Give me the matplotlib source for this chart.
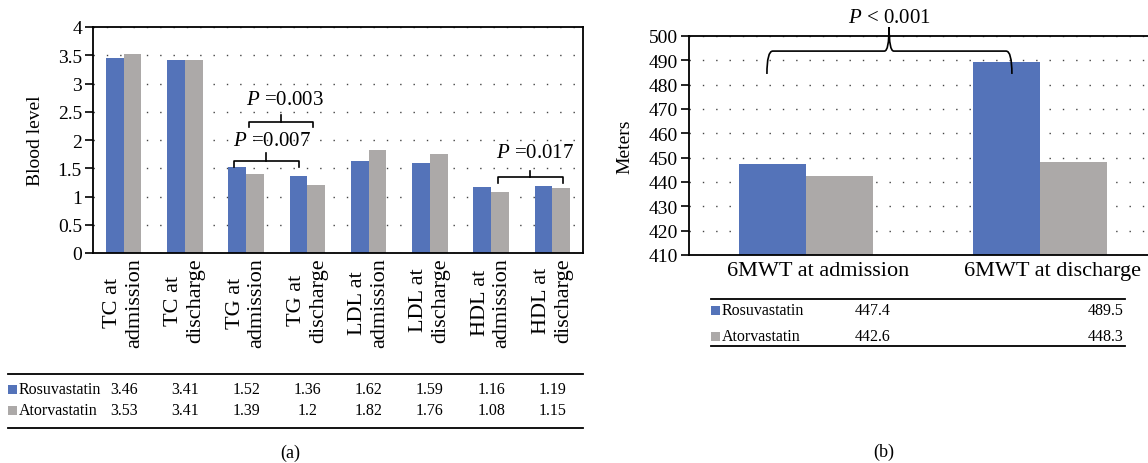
import matplotlib.pyplot as plt
import matplotlib.transforms as mtransforms
from matplotlib.path import Path
from matplotlib.patches import PathPatch, Rectangle
from matplotlib.lines import Line2D
import numpy as np

plt.rcParams['font.family'] = 'Liberation Serif'
plt.rcParams['mathtext.fontset'] = 'custom'
plt.rcParams['mathtext.rm'] = 'Liberation Serif'
plt.rcParams['mathtext.it'] = 'Liberation Serif:italic'

# data
series = ['Rosuvastatin', 'Atorvastatin']
lipid_labels = ['TC at\nadmission', 'TC at\ndischarge', 'TG at\nadmission', 'TG at\ndischarge',
                'LDL at\nadmission', 'LDL at\ndischarge', 'HDL at\nadmission', 'HDL at\ndischarge']
rosu_lipid = [3.46, 3.41, 1.52, 1.36, 1.62, 1.59, 1.16, 1.19]
ator_lipid = [3.53, 3.41, 1.39, 1.2, 1.82, 1.76, 1.08, 1.15]

walk_labels = ['6MWT at admission', '6MWT at discharge']
rosu_walk = [447.4, 489.5]
ator_walk = [442.6, 448.3]

blue = '#5473B9'
grey = '#ACA9A8'
colors = [blue, grey]
dots = (0, (1, 8.6))

W, H = 1148, 464
fx = lambda px: px / W
fy = lambda py: 1 - py / H

fig = plt.figure(figsize=(W / 100, H / 100), dpi=100)
ax1 = fig.add_axes([fx(93), fy(254), fx(583) - fx(93), fy(28) - fy(254)])
ax2 = fig.add_axes([fx(689), fy(256), fx(1157) - fx(689), fy(37) - fy(256)])

for ax in (ax1, ax2):
    for s in ax.spines.values():
        s.set_linewidth(1.3)
        s.set_color('black')
    ax.set_axisbelow(True)
    ax.yaxis.grid(True, linestyle=dots, color='#444444', linewidth=1)
    ax.tick_params(axis='y', length=6, width=1.2, direction='out', labelsize=14, pad=2)
    ax.tick_params(axis='x', length=0, labelsize=16)

# ---- panel (a)
x = np.arange(len(lipid_labels))
w = 0.29
ax1.bar(x - w / 2, rosu_lipid, w, color=blue)
ax1.bar(x + w / 2, ator_lipid, w, color=grey)
ax1.set_xlim(-0.5, len(x) - 0.5)
ax1.set_ylim(0, 4)
yt = np.arange(0, 4.01, 0.5)
ax1.set_yticks(yt)
ax1.set_yticklabels(['%g' % v for v in yt])
ax1.set_xticks(x)
ax1.set_xticklabels(lipid_labels, rotation=90, multialignment='center')
ax1.tick_params(axis='x', pad=3)
ax1.set_ylabel('Blood level', fontsize=14)
ax1.yaxis.set_label_coords(-0.100, 0.5)


def bracket(ax, x0, x1, ylow, yh, ytop):
    ax.plot([x0, x0, x1, x1], [ylow, yh, yh, ylow], color='black', lw=1.2)
    xm = (x0 + x1) / 2
    ax.plot([xm, xm], [yh, ytop], color='black', lw=1.2)


bracket(ax1, 1.80, 2.86, 1.52, 1.63, 1.77)
ax1.text(2.42, 2.0, r'$P$ =0.007', ha='center', va='center', fontsize=15)
bracket(ax1, 2.05, 3.09, 2.23, 2.32, 2.44)
ax1.text(2.63, 2.72, r'$P$ =0.003', ha='center', va='center', fontsize=15)
bracket(ax1, 6.11, 7.17, 1.24, 1.35, 1.45)
ax1.text(6.72, 1.77, r'$P$ =0.017', ha='center', va='center', fontsize=15)

# ---- panel (b)
x2 = np.arange(len(walk_labels))
w2 = 0.286
ax2.bar(x2 - w2 / 2, rosu_walk, w2, color=blue)
ax2.bar(x2 + w2 / 2, ator_walk, w2, color=grey)
ax2.set_xlim(-0.5, len(x2) - 0.5)
ax2.set_ylim(410, 500)
ax2.set_yticks(np.arange(410, 501, 10))
ax2.set_xticks(x2)
ax2.set_xticklabels(walk_labels)
ax2.tick_params(axis='x', pad=4)
shift = mtransforms.ScaledTranslation(12 / 100, 0, fig.dpi_scale_trans)
for lab in ax2.get_xticklabels():
    lab.set_transform(lab.get_transform() + shift)
ax2.spines['right'].set_visible(False)
ax2.set_ylabel('Meters', fontsize=14)
ax2.yaxis.set_label_coords(-0.118, 0.5)

# curly brace
x0, x1, xm = -0.167, 0.880, 0.355
yb, yh, ytp = 484.4, 493.8, 503.7
verts = [(x0, yb), (x0, yh), (x0 + 0.025, yh),
         (xm - 0.02, yh), (xm, yh), (xm, ytp),
         (xm, ytp), (xm, yh), (xm + 0.02, yh),
         (x1 - 0.025, yh), (x1, yh), (x1, yb)]
codes = [Path.MOVETO, Path.CURVE3, Path.CURVE3,
         Path.LINETO, Path.CURVE3, Path.CURVE3,
         Path.MOVETO, Path.CURVE3, Path.CURVE3,
         Path.LINETO, Path.CURVE3, Path.CURVE3]
ax2.add_patch(PathPatch(Path(verts, codes), fill=False, lw=1.2, color='black', clip_on=False))
ax2.text(xm, 507.8, r'$P$ < 0.001', ha='center', va='center', fontsize=15)

# ---- data tables
def hline(x0p, x1p, yp):
    fig.add_artist(Line2D([fx(x0p), fx(x1p)], [fy(yp), fy(yp)], color='black', lw=1.3))


def row_label(xp, yp, name, color):
    fig.add_artist(Rectangle((fx(xp), fy(yp + 4.5)), fx(9), 9 / H, color=color, lw=0))
    fig.text(fx(xp + 11), fy(yp), name, ha='left', va='center', fontsize=11.5)


hline(8, 583, 375)
hline(8, 583, 429)
tr = mtransforms.blended_transform_factory(ax1.transData, fig.transFigure)
for yp, name, c, vals in zip([390, 411], series, colors, [rosu_lipid, ator_lipid]):
    row_label(8, yp, name, c)
    for i, v in enumerate(vals):
        fig.text(i, fy(yp), '%g' % v, transform=tr, ha='center', va='center', fontsize=11.5)

hline(711, 1125, 300)
hline(711, 1125, 347)
for yp, name, c, vals in zip([311, 337], series, colors, [rosu_walk, ator_walk]):
    row_label(711, yp, name, c)
    fig.text(fx(855), fy(yp), '%.1f' % vals[0], ha='left', va='center', fontsize=11.5)
    fig.text(fx(1124), fy(yp), '%.1f' % vals[1], ha='right', va='center', fontsize=11.5)

fig.text(fx(290), fy(453), '(a)', ha='center', va='center', fontsize=13)
fig.text(fx(884), fy(452), '(b)', ha='center', va='center', fontsize=13)

fig.savefig('out.png', dpi=100)
